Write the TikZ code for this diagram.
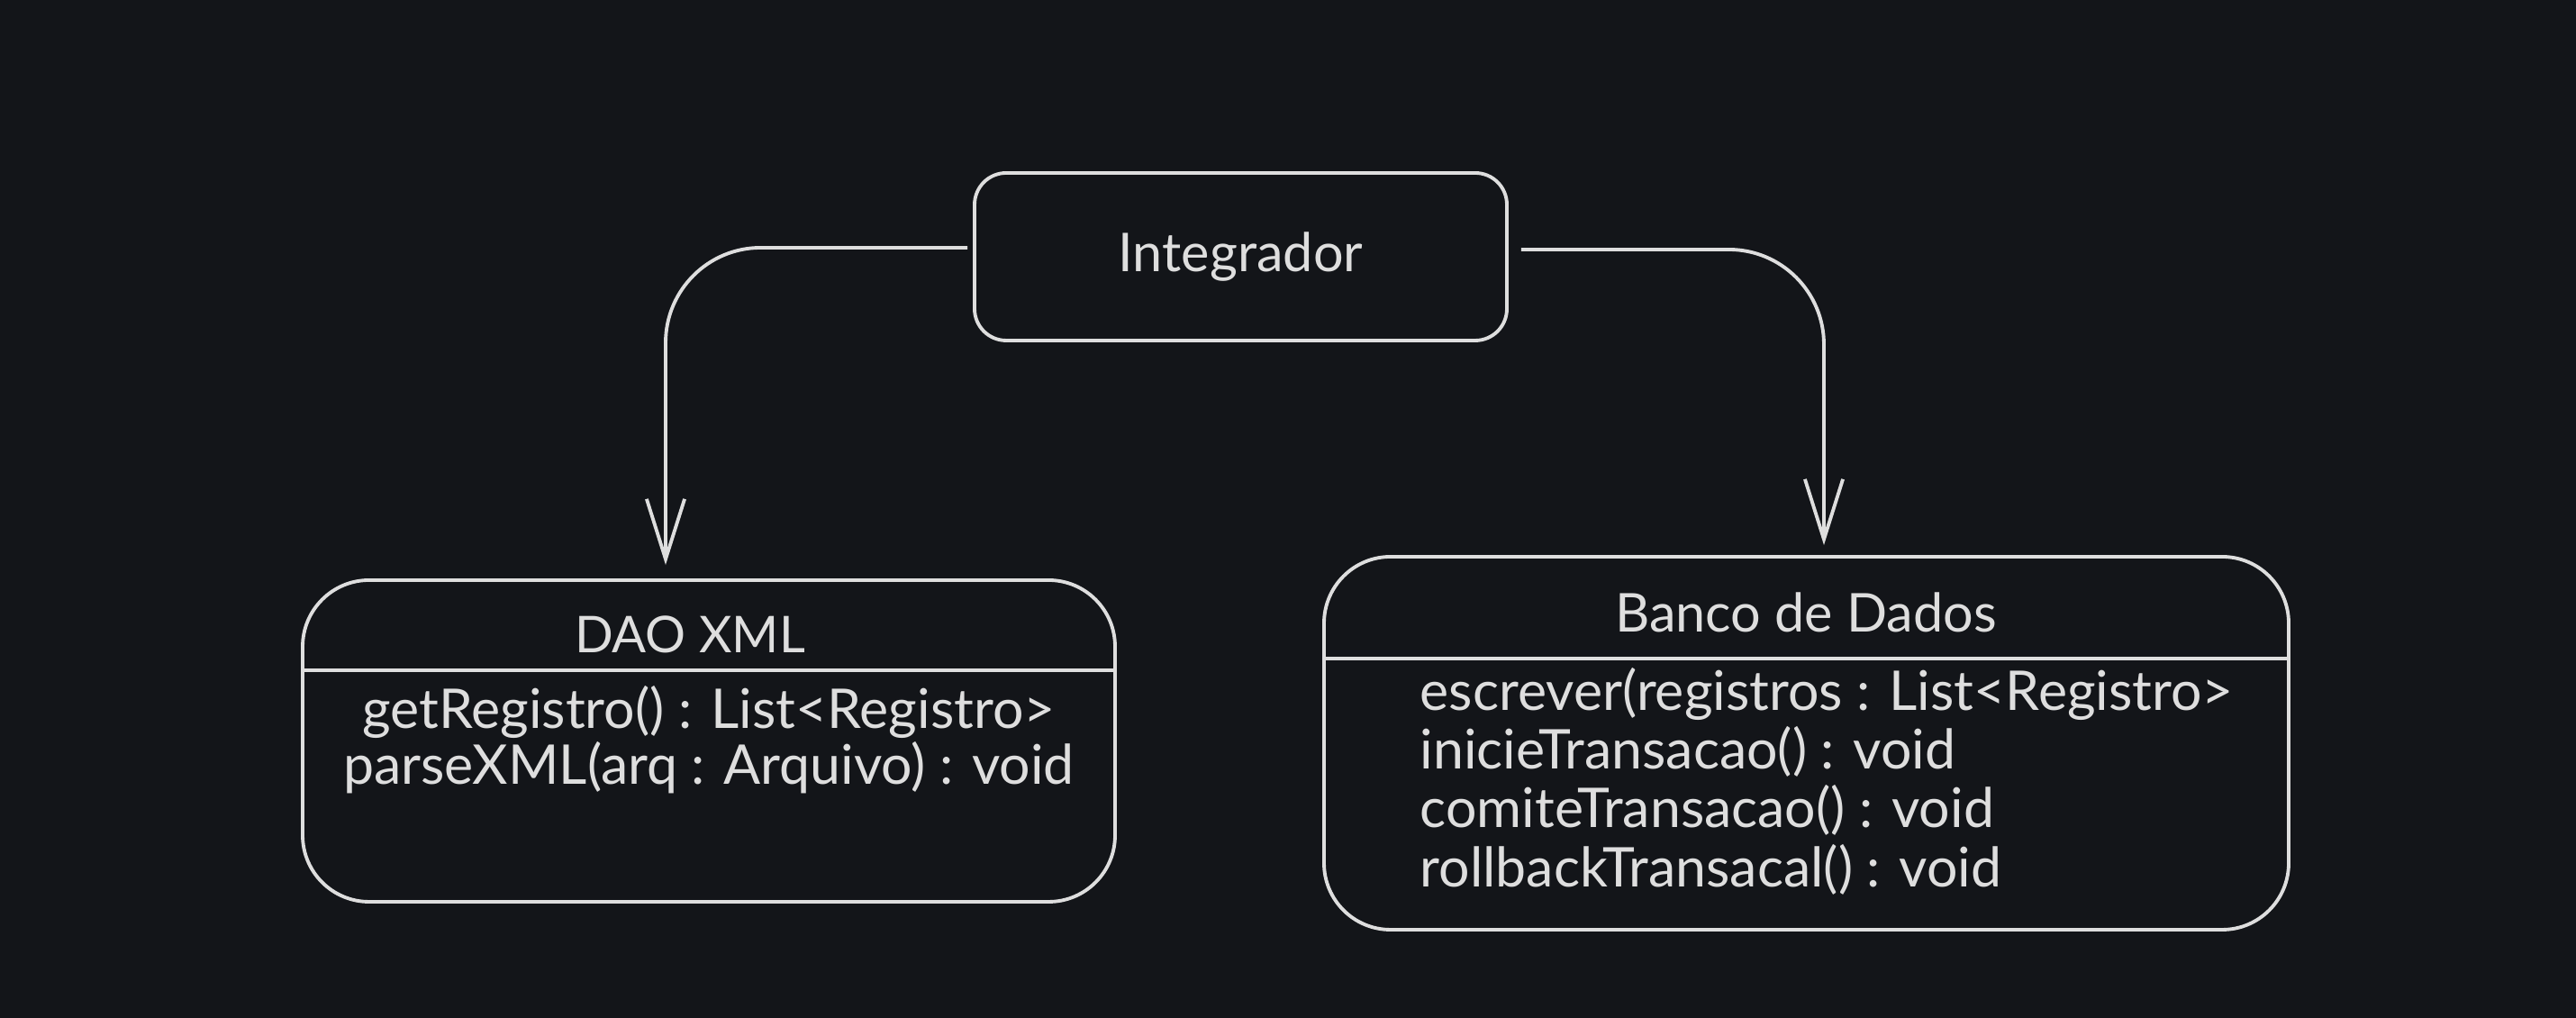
\documentclass[tikz,border=0pt]{standalone}
\usepackage{fontspec}
\setmainfont{Lato}
\usetikzlibrary{arrows.meta,calc}
\definecolor{bg}{RGB}{19,21,25}
\definecolor{ink}{RGB}{222,222,222}
\begin{document}
\begin{tikzpicture}[
  box/.style={draw=ink, line width=1.1pt, rounded corners=#1, inner sep=0pt},
  lbl/.style={text=ink, font=\fontsize{17.3}{20}\selectfont, inner sep=0pt},
  ttl/.style={text=ink, font=\fontsize{16.9}{20}\selectfont, inner sep=0pt},
  sepline/.style={draw=ink, line width=1.1pt},
  conn/.style={draw=ink, line width=1.1pt, rounded corners=30pt,
    -{Straight Barb[length=19pt,width=12pt,line width=1.1pt]}},
]
\fill[bg] (0,0) rectangle (28.6,11.3);
\useasboundingbox (0,0) rectangle (28.6,11.3);

% Integrador
\node[box=10pt, minimum width=5.91cm, minimum height=1.86cm] (integ) at (13.775,8.45) {};
\node[ttl] (integT) at (13.775,8.45) {Integrador};

% DAO XML
\node[box=21pt, minimum width=9.02cm, minimum height=3.57cm] (dao) at (7.87,3.075) {};
\node[ttl, font=\fontsize{16}{20}\selectfont] (daoT) at (7.66,4.26) {DAO XML};
\coordinate (sepD) at (0,3.86);
\draw[sepline] (dao.west |- sepD) -- (dao.east |- sepD);
\node[lbl] (daoM1) at (7.87,3.40) {getRegistro() : List<Registro>};
\node[lbl] (daoM2) at (7.87,2.78) {parseXML(arq : Arquivo) : void};

% Banco de Dados
\node[box=21pt, minimum width=10.71cm, minimum height=4.14cm] (bd) at (20.055,3.05) {};
\node[ttl] (bdT) at (20.05,4.50) {Banco de Dados};
\coordinate (sepB) at (0,3.99);
\draw[sepline] (bd.west |- sepB) -- (bd.east |- sepB);
\node[lbl, anchor=west] (bdM1) at (15.76,3.60) {escrever(registros : List<Registro>};
\node[lbl, anchor=west] (bdM2) at (15.76,2.96) {inicieTransacao() : void};
\node[lbl, anchor=west] (bdM3) at (15.76,2.31) {comiteTransacao() : void};
\node[lbl, anchor=west] (bdM4) at (15.76,1.65) {rollbackTransacal() : void};

% connectors
\coordinate (sL) at ($(integ.west)+(-0.06,0.10)$);
\coordinate (tipL) at ($(dao.north)+(-0.48,0.15)$);
\draw[conn] (sL) -| (tipL);
\coordinate (sR) at ($(integ.east)+(0.14,0.08)$);
\coordinate (tipR) at ($(bd.north)+(0.195,0.11)$);
\draw[conn] (sR) -| (tipR);
\end{tikzpicture}
\end{document}
